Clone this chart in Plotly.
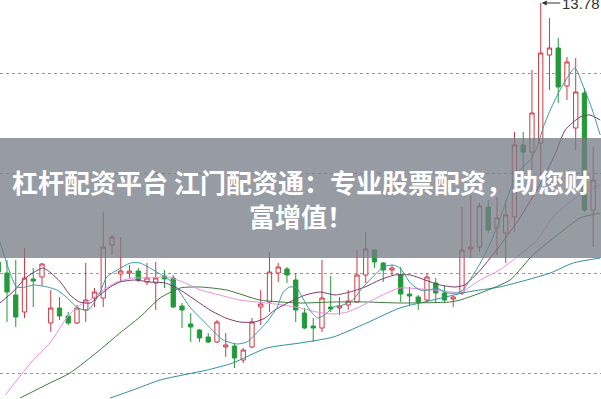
import plotly.graph_objects as go

# ---- candle data (index = trading day in the window) ----
opens = [11.19, 11.08, 10.86, 10.69, 11.02, 11.04, 10.58, 10.73, 10.65, 10.58,
         10.71, 10.83, 10.83, 11.36, 11.07, 11.08, 11.10, 10.99, 10.98, 11.05,
         11.03, 10.75, 10.57, 10.51, 10.44, 10.39, 10.34, 10.35, 10.21, 10.34,
         10.74, 10.79, 11.08, 11.12, 11.01, 10.68, 10.55, 10.53, 10.74, 10.73,
         10.76, 10.79, 11.06, 11.31, 11.18, 11.11, 11.06, 10.87, 10.84, 10.81,
         10.98, 10.88, 10.82, 10.88, 11.32, 11.34, 11.74, 11.53, 11.48, 11.64,
         12.36, 12.29, 12.38, 13.26, 13.33, 12.95, 12.53, 12.88, 11.71]
highs = [11.26, 11.21, 11.21, 11.33, 11.13, 11.18, 10.91, 10.84, 10.69, 10.76,
         11.18, 10.93, 11.69, 11.46, 11.44, 11.16, 11.13, 11.18, 11.19, 11.11,
         11.06, 10.78, 10.68, 10.52, 10.48, 10.61, 10.48, 10.38, 10.33, 10.63,
         10.91, 11.29, 11.18, 11.14, 11.08, 10.73, 10.63, 11.21, 11.05, 10.84,
         10.91, 11.31, 11.49, 11.32, 11.19, 11.16, 11.14, 10.94, 10.86, 11.08,
         11.03, 10.96, 10.85, 11.74, 11.86, 11.78, 11.81, 11.84, 11.81, 12.49,
         12.49, 13.11, 13.78, 13.63, 13.43, 13.24, 13.23, 12.93, 12.34]
lows = [11.01, 10.59, 10.54, 10.63, 10.74, 10.95, 10.49, 10.61, 10.56, 10.57,
        10.59, 10.74, 10.74, 11.26, 10.99, 11.03, 10.99, 10.96, 10.71, 10.93,
        10.73, 10.53, 10.39, 10.39, 10.38, 10.38, 10.24, 10.13, 10.18, 10.33,
        10.56, 10.69, 10.99, 10.98, 10.59, 10.52, 10.39, 10.49, 10.69, 10.66,
        10.71, 10.78, 10.98, 11.13, 10.99, 11.06, 10.79, 10.76, 10.71, 10.79,
        10.78, 10.78, 10.74, 10.86, 11.23, 11.29, 11.48, 11.26, 11.18, 11.49,
        11.98, 12.11, 12.01, 12.91, 12.78, 12.81, 12.31, 11.69, 11.34]
closes = [11.09, 10.89, 10.64, 11.03, 11.00, 11.17, 10.73, 10.65, 10.58, 10.73,
          10.81, 10.89, 11.34, 11.44, 11.10, 11.10, 11.01, 11.03, 11.03, 11.02,
          10.74, 10.71, 10.54, 10.43, 10.39, 10.59, 10.36, 10.23, 10.31, 10.59,
          10.77, 11.09, 11.14, 11.06, 10.71, 10.53, 10.53, 10.83, 10.72, 10.75,
          10.80, 11.06, 11.32, 11.19, 11.11, 11.13, 10.87, 10.85, 10.79, 11.04,
          10.88, 10.81, 10.84, 11.31, 11.34, 11.75, 11.51, 11.63, 11.66, 12.36,
          12.29, 12.68, 13.28, 13.33, 12.94, 13.19, 12.89, 11.71, 12.01]
days = list(range(len(opens)))

# ---- moving-average lines ----
ma5_x = [0.2, 2.1, 3.1, 4.0, 5.6, 6.7, 7.9, 9.1, 10.3, 11.6, 12.4, 13.6, 15.1, 16.2,
         18.1, 20.0, 21.9, 23.9, 25.7, 27.3, 28.4, 29.3, 30.7, 31.9, 32.5, 33.3,
         34.1, 34.8, 35.6, 36.5, 37.3, 38.3, 39.4, 40.5, 41.7, 42.8, 44.0, 45.1,
         45.9, 47.1, 48.2, 49.3, 50.1, 51.3, 52.5, 53.1, 53.9, 55.1, 56.4, 57.7,
         58.8, 59.6, 60.8, 61.6, 62.3, 63.1, 64.2, 65.9, 66.8, 67.9, 68.8]
ma5_y = [11.39, 10.94, 10.94, 10.96, 10.94, 10.91, 10.83, 10.73, 10.71, 10.88,
         11.04, 11.11, 11.18, 11.18, 11.09, 10.98, 10.74, 10.56, 10.41, 10.37,
         10.39, 10.46, 10.59, 10.74, 10.88, 10.94, 10.93, 10.83, 10.71, 10.63,
         10.66, 10.74, 10.76, 10.81, 10.94, 11.04, 11.14, 11.16, 11.13, 10.98,
         10.91, 10.91, 10.93, 10.88, 10.88, 10.91, 11.01, 11.18, 11.41, 11.71,
         11.98, 12.11, 12.21, 12.34, 12.54, 12.71, 12.91, 13.13, 12.96, 12.71, 12.46]

ma10_x = [0.2, 1.9, 3.1, 5.1, 5.9, 7.1, 8.2, 9.3, 10.5, 11.6, 12.8, 13.9, 15.6,
          17.3, 19.1, 20.8, 22.5, 24.2, 26.0, 27.6, 29.3, 30.5, 31.6, 33.3, 35.1,
          36.8, 38.5, 40.2, 41.9, 43.6, 45.3, 47.1, 48.8, 50.5, 52.2, 53.3, 55.1,
          57.4, 59.6, 61.9, 63.6, 64.8, 66.5, 67.6, 68.8]
ma10_y = [10.78, 10.91, 11.03, 11.13, 11.09, 10.99, 10.86, 10.79, 10.78, 10.86,
          10.94, 10.99, 11.01, 10.99, 10.98, 10.91, 10.81, 10.71, 10.63, 10.59,
          10.59, 10.63, 10.71, 10.79, 10.86, 10.89, 10.86, 10.89, 10.94, 11.01,
          11.06, 11.06, 11.01, 10.96, 10.94, 10.96, 11.11, 11.36, 11.63, 11.96,
          12.26, 12.51, 12.64, 12.66, 12.61]

ma20_x = [0.8, 4.0, 5.9, 7.9, 9.0, 10.5, 12.0, 13.6, 15.4, 17.3, 19.3, 21.1, 23.1,
          25.3, 27.6, 30.7, 32.5, 34.5, 36.4, 38.3, 39.9, 41.3, 42.8, 44.4, 45.9,
          49.7, 52.8, 55.1, 57.3, 59.3, 61.6, 63.4, 66.1, 68.8]
ma20_y = [9.86, 10.21, 10.38, 10.64, 10.74, 10.81, 10.91, 10.99, 11.03, 11.03,
          11.04, 10.99, 10.91, 10.86, 10.81, 10.78, 10.76, 10.73, 10.69, 10.67,
          10.69, 10.74, 10.81, 10.88, 10.93, 10.91, 10.89, 11.01, 11.11, 11.24,
          11.41, 11.64, 11.84, 11.96]

ma30_x = [2.5, 5.9, 8.2, 11.6, 13.9, 16.2, 18.5, 20.8, 23.1, 26.1, 29.9, 34.5,
          38.3, 42.1, 45.9, 51.6, 52.8, 55.4, 58.5, 61.1, 63.9, 66.5, 68.8]
ma30_y = [9.83, 9.98, 10.08, 10.31, 10.48, 10.64, 10.83, 10.93, 10.94, 10.91,
          10.81, 10.78, 10.79, 10.79, 10.78, 10.79, 10.81, 10.89, 11.01, 11.26,
          11.46, 11.63, 11.68]

ma60_x = [12.8, 15.4, 18.5, 21.1, 23.9, 26.8, 30.7, 34.5, 38.3, 42.1, 45.9, 49.7,
          53.6, 57.3, 60.4, 63.1, 65.7, 68.8]
ma60_y = [9.83, 9.91, 10.01, 10.06, 10.11, 10.18, 10.33, 10.38, 10.44, 10.58,
          10.73, 10.81, 10.89, 10.94, 11.01, 11.08, 11.18, 11.23]

grid_levels = [13.08, 12.08, 11.08, 10.08]
title_lines = ["杠杆配资平台 江门配资通：专业股票配资，助您财", "富增值！"]

RED = "#cc3a44"
GREEN = "#23993a"

fig = go.Figure()
fig.add_trace(go.Candlestick(
    x=days, open=opens, high=highs, low=lows, close=closes,
    increasing=dict(line=dict(color=RED, width=1), fillcolor="white"),
    decreasing=dict(line=dict(color=GREEN, width=1), fillcolor=GREEN),
    whiskerwidth=0, hoverinfo="skip",
))

for xs, ys, col in [
    (ma60_x, ma60_y, "#2f8fa0"),
    (ma30_x, ma30_y, "#3d7a3d"),
    (ma20_x, ma20_y, "#e58ee5"),
    (ma10_x, ma10_y, "#7b3a6e"),
    (ma5_x, ma5_y, "#3c9c9c"),
]:
    fig.add_trace(go.Scatter(x=xs, y=ys, mode="lines",
                             line=dict(color=col, width=1, shape="spline", smoothing=0.6),
                             hoverinfo="skip"))

# label of the highest price
hi = max(highs)
hi_i = highs.index(hi)
fig.add_annotation(x=hi_i, y=hi, text=f"{hi:.2f}", showarrow=True,
                   ax=40, ay=0, arrowhead=2, arrowsize=1, arrowwidth=1,
                   arrowcolor="#333", standoff=1,
                   font=dict(family="Liberation Sans, Arial", size=15, color="#333"))

# grey banner with title
fig.add_shape(type="rect", xref="paper", yref="paper", x0=0, x1=1,
              y0=1 - 258 / 399, y1=1 - 138 / 399,
              fillcolor="rgba(118,124,135,0.76)", line=dict(width=0), layer="above")
fig.add_annotation(xref="paper", yref="paper", x=0.5, y=1 - 198.5 / 399,
                   text="<br>".join(title_lines), showarrow=False,
                   xanchor="center", yanchor="middle", align="center",
                   font=dict(family="Noto Sans CJK SC", size=26, color="white", weight="bold"))

fig.update_layout(
    width=601, height=399, margin=dict(l=0, r=0, t=0, b=0),
    paper_bgcolor="white", plot_bgcolor="white", showlegend=False,
    xaxis=dict(range=[0.2, 68.89], visible=False, rangeslider=dict(visible=False)),
    yaxis=dict(range=[9.82, 13.81], tickvals=grid_levels, showticklabels=False,
               showgrid=True, gridcolor="#9a9a9a", griddash="dot", gridwidth=1,
               zeroline=False, showline=False),
)
fig.write_html("out.html", config={"displayModeBar": False})
